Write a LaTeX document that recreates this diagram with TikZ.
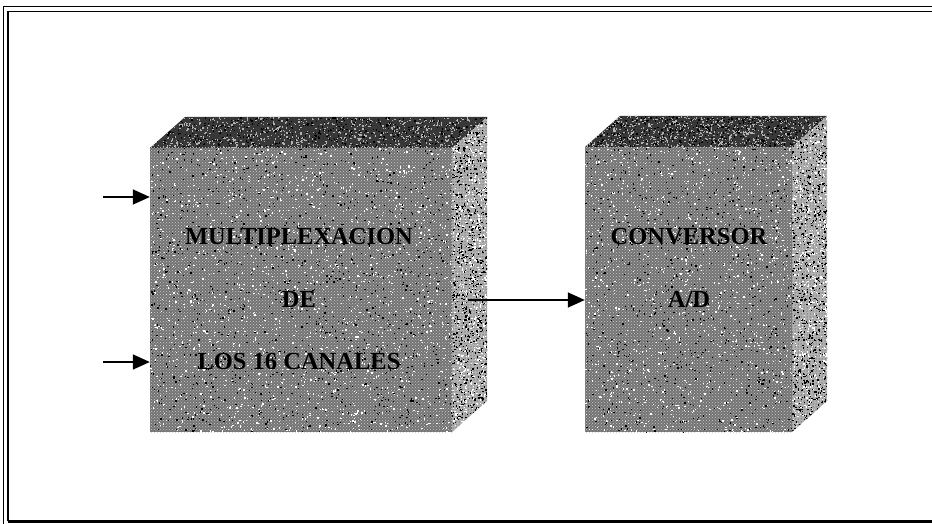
\documentclass[tikz,border=0pt]{standalone}
\usepackage{fontspec}
\setmainfont{Liberation Serif}
\usetikzlibrary{arrows.meta,patterns,calc}

\tikzset{
  frameline/.style={line width=1.6pt, black},
  arr/.style={line width=1.6pt, -{Triangle[length=17pt,width=15pt]}},
  frontface/.style={fill=black!55},
  topface/.style={fill=black!78},
  sideface/.style={fill=black!30},
  grain/.style={pattern=crosshatch dots, pattern color=white!80!black},
  grainside/.style={pattern=dots, pattern color=black!85},
  anchorbox/.style={draw=none, inner sep=0pt},
  label/.style={font=\fontsize{24.5}{26}\selectfont\bfseries, inner sep=0pt, text=black}
}

% scatter small specks over a rectangle: x0, y0, width, height, count, colour
\newcommand{\specks}[6]{%
  \foreach \k in {1,...,#5}{
    \fill[#6] ({(#1)+(#3)*rnd},{(#2)+(#4)*rnd}) rectangle ++(1.3,1.3);
  }%
}

% a shaded block: front face, top face and right face
\newcommand{\block}[5]{% name, x0, y0, x1, y1
  \pgfmathtruncatemacro\nlight{(#4-#2)*6}
  \pgfmathtruncatemacro\ndark{(#4-#2)*4}
  \fill[topface] (#2,#3) -- ++(35,-31) -- (#4+35,#3-31) -- (#4,#3) -- cycle;
  \begin{scope}
    \clip (#2,#3) -- ++(35,-31) -- (#4+35,#3-31) -- (#4,#3) -- cycle;
    \specks{#2}{#3-31}{#4-#2+35}{31}{900}{white!70!black}
    \specks{#2}{#3-31}{#4-#2+35}{31}{500}{black}
  \end{scope}
  \fill[sideface] (#4,#3) -- (#4+35,#3-31) -- (#4+35,#5-31) -- (#4,#5) -- cycle;
  \begin{scope}
    \clip (#4,#3) -- (#4+35,#3-31) -- (#4+35,#5-31) -- (#4,#5) -- cycle;
    \fill[grainside] (#4,#3-31) rectangle (#4+35,#5);
    \specks{#4}{#3-31}{35}{#5-#3+31}{900}{black}
    \specks{#4}{#3-31}{35}{#5-#3+31}{700}{white}
  \end{scope}
  \fill[frontface] (#2,#3) rectangle (#4,#5);
  \begin{scope}
    \clip (#2,#3) rectangle (#4,#5);
    \fill[grain] (#2,#3) rectangle (#4,#5);
    \specks{#2}{#3}{#4-#2}{#5-#3}{\nlight}{white}
    \specks{#2}{#3}{#4-#2}{#5-#3}{\ndark}{black}
  \end{scope}
  \node[anchorbox, minimum width=#4-#2, minimum height=#5-#3] (#1) at ({(#2+#4)/2},{(#3+#5)/2}) {};
}

\begin{document}
\begin{tikzpicture}[x=1pt,y=-1pt]
  \pgfmathsetseed{4711}
  \useasboundingbox (0,0) rectangle (932,524);
  \fill[white] (0,0) rectangle (932,524);

  % double page frame
  \draw[frameline] (3.5,524) -- (3.5,6.5) -- (932,6.5);
  \draw[frameline, line width=1.3pt] (8,521) -- (8,11.5) -- (932,11.5);
  \draw[line width=2.4pt] (8,521.5) -- (932,521.5);

  % blocks
  \block{mux}{150}{148}{452}{432}
  \block{adc}{585}{147}{792}{432}

  % labels
  \node[label] (t1) at (299,237) {MULTIPLEXACION};
  \node[label] (t2) at (299,300) {DE};
  \node[label] (t3) at (299,362) {LOS 16 CANALES};
  \node[label] (t4) at (689,237) {CONVERSOR};
  \node[label] (t5) at (689,300) {A/D};

  % connectors
  \coordinate (in1) at (103,197);
  \coordinate (in2) at (103,362);
  \coordinate (out) at (468,300);
  \draw[arr] (in1) -- (mux.west |- in1);
  \draw[arr] (in2) -- (mux.west |- in2);
  \draw[arr] (out) -- (adc.west |- out);
\end{tikzpicture}
\end{document}
